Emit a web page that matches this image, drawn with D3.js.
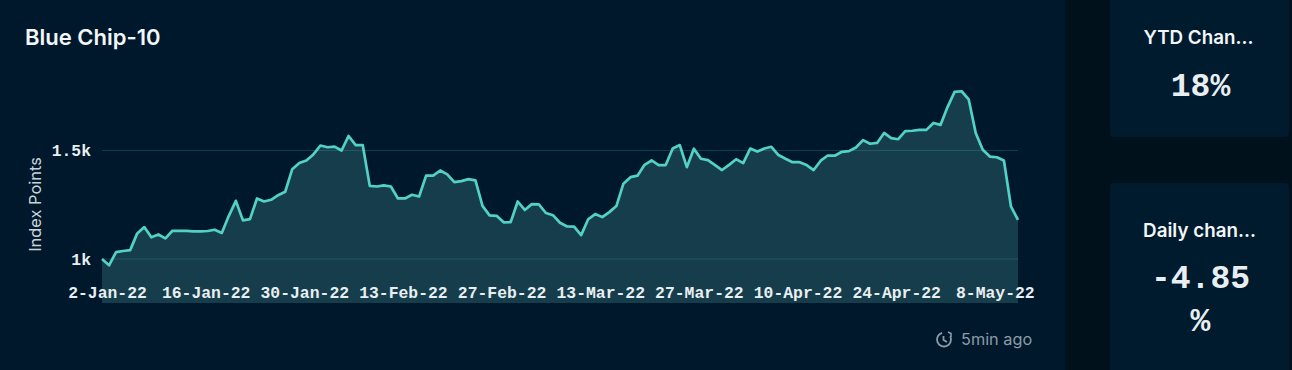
<!DOCTYPE html>
<html>
<head>
<meta charset="utf-8">
<script src="https://cdn.jsdelivr.net/npm/d3@7"></script>
<style>
    html, body { margin: 0; padding: 0; background: #00111c; overflow: hidden; }
    svg { display: block; }
    .card { fill: #001a2e; }
    .title { font-family: Inter, sans-serif; font-weight: 600; fill: #f2f6f8; }
    .mono { font-family: "Liberation Mono", monospace; font-weight: 700; fill: #e8eff2; }
    .axis path, .axis line { display: none; }
</style>
</head>
<body>
<svg id="chart" width="1292" height="370"></svg>
<script>
const startDate = new Date(2022, 0, 2);
const indexValues = [
    1000, 971, 1032, 1037, 1041, 1118, 1147, 1100, 1113, 1095,
    1130, 1130, 1130, 1127, 1127, 1129, 1135, 1120, 1199, 1268,
    1178, 1184, 1279, 1265, 1273, 1294, 1310, 1414, 1442, 1454,
    1482, 1523, 1515, 1518, 1500, 1567, 1525, 1525, 1337, 1334,
    1339, 1334, 1279, 1279, 1296, 1288, 1384, 1384, 1408, 1390,
    1354, 1359, 1368, 1362, 1245, 1201, 1199, 1169, 1170, 1265,
    1226, 1253, 1252, 1212, 1202, 1167, 1150, 1149, 1110, 1183,
    1207, 1193, 1216, 1244, 1347, 1377, 1384, 1434, 1454, 1433,
    1433, 1509, 1525, 1423, 1508, 1462, 1456, 1433, 1410, 1434,
    1460, 1442, 1509, 1495, 1509, 1517, 1479, 1462, 1446, 1446,
    1433, 1410, 1453, 1477, 1476, 1494, 1497, 1514, 1548, 1531,
    1535, 1581, 1557, 1552, 1589, 1591, 1595, 1595, 1627, 1618,
    1700, 1770, 1773, 1736, 1581, 1503, 1472, 1469, 1454, 1242,
    1180
];
const xTickLabels = ['2-Jan-22', '16-Jan-22', '30-Jan-22', '13-Feb-22', '27-Feb-22',
    '13-Mar-22', '27-Mar-22', '10-Apr-22', '24-Apr-22', '8-May-22'];
const yTickValues = [1000, 1500];
const yTickLabels = ['1k', '1.5k'];

const data = indexValues.map((v, i) => ({ date: d3.timeDay.offset(startDate, i), value: v }));
const xTicks = xTickLabels.map((d, i) => d3.timeDay.offset(startDate, i * 14));

const svg = d3.select('#chart');

// panels
svg.append('rect').attr('x', 0).attr('y', 0).attr('width', 1065).attr('height', 370).attr('fill', '#00182c');
svg.append('rect').attr('class', 'card').attr('x', 1110).attr('y', -8).attr('width', 179).attr('height', 145).attr('rx', 4);
svg.append('rect').attr('class', 'card').attr('x', 1110).attr('y', 183).attr('width', 179).attr('height', 200).attr('rx', 4);

svg.append('text').attr('class', 'title')
    .attr('x', 25).attr('y', 45)
    .style('font-size', '22px')
    .text('Blue Chip-10');

const x = d3.scaleTime()
    .domain(d3.extent(data, d => d.date))
    .range([102, 1018]);
const y = d3.scaleLinear()
    .domain([1000, 1500])
    .range([259, 150.5]);
const bottom = 303;

// grid
svg.append('g').selectAll('line')
    .data(yTickValues)
    .enter()
    .append('line')
    .attr('x1', x.range()[0])
    .attr('x2', x.range()[1])
    .attr('y1', d => y(d))
    .attr('y2', d => y(d))
    .attr('stroke', '#4fd1c5')
    .attr('stroke-opacity', 0.2)
    .attr('stroke-width', 1);

const area = d3.area()
    .x(d => x(d.date))
    .y0(bottom)
    .y1(d => y(d.value));
const line = d3.line()
    .x(d => x(d.date))
    .y(d => y(d.value));

svg.append('path').datum(data)
    .attr('d', area)
    .attr('fill', '#6fd1c8')
    .attr('fill-opacity', 0.2);
svg.append('path').datum(data)
    .attr('d', line)
    .attr('fill', 'none')
    .attr('stroke', '#52d1c6')
    .attr('stroke-width', 2.7)
    .attr('stroke-linejoin', 'round');

// axes
const xAxis = svg.append('g').attr('class', 'axis')
    .attr('transform', `translate(5, 280)`)
    .call(d3.axisBottom(x).tickValues(xTicks).tickFormat((d, i) => xTickLabels[i]).tickSize(0));
xAxis.selectAll('text')
    .attr('class', 'mono')
    .style('font-size', '16.4px')
    .attr('dy', '0.71em')
    .attr('y', 6);

const yAxis = svg.append('g').attr('class', 'axis')
    .attr('transform', `translate(91, 0)`)
    .call(d3.axisLeft(y).tickValues(yTickValues).tickFormat((d, i) => yTickLabels[i]).tickSize(0).tickPadding(0));
yAxis.selectAll('text')
    .attr('class', 'mono')
    .style('font-size', '16.4px');

svg.append('text')
    .attr('transform', 'translate(41, 204.5) rotate(-90)')
    .attr('text-anchor', 'middle')
    .style('font-family', 'Inter, sans-serif')
    .style('font-size', '16.4px')
    .attr('fill', '#c9d3d9')
    .text('Index Points');

// refreshed note
const note = svg.append('g').attr('transform', 'translate(944, 339.5)')
    .attr('stroke', '#8b9ca6').attr('fill', 'none').attr('stroke-width', 1.8);
note.append('path').attr('d', d3.arc()({ innerRadius: 7, outerRadius: 7, startAngle: 1.1, endAngle: 6.0 }));
note.append('path').attr('d', 'M-0.5 -3.5V0.5L3 2.5');
note.append('path').attr('d', 'M4 -7.5L7 -6V-2.5').attr('stroke-width', 1.6);
svg.append('text')
    .attr('x', 961).attr('y', 345)
    .style('font-family', 'Inter, sans-serif')
    .style('font-size', '16.3px')
    .attr('fill', '#8b9ca6')
    .text('5min ago');

// side cards
const cx = 1199.5;
svg.append('text').attr('class', 'title').attr('x', cx - 1).attr('y', 44)
    .attr('text-anchor', 'middle').style('font-size', '18.8px').text('YTD Chan...');
svg.append('text').attr('class', 'mono').attr('x', cx + 1).attr('y', 96)
    .attr('text-anchor', 'middle').style('font-size', '33px').text('18%');
svg.append('text').attr('class', 'title').attr('x', cx).attr('y', 237)
    .attr('text-anchor', 'middle').style('font-size', '18.8px').text('Daily chan...');
svg.append('text').attr('class', 'mono').attr('x', cx + 1).attr('y', 288)
    .attr('text-anchor', 'middle').style('font-size', '33px').text('-4.85');
svg.append('text').attr('class', 'mono').attr('x', cx + 1).attr('y', 331)
    .attr('text-anchor', 'middle').style('font-size', '33px').text('%');
</script>
</body>
</html>
